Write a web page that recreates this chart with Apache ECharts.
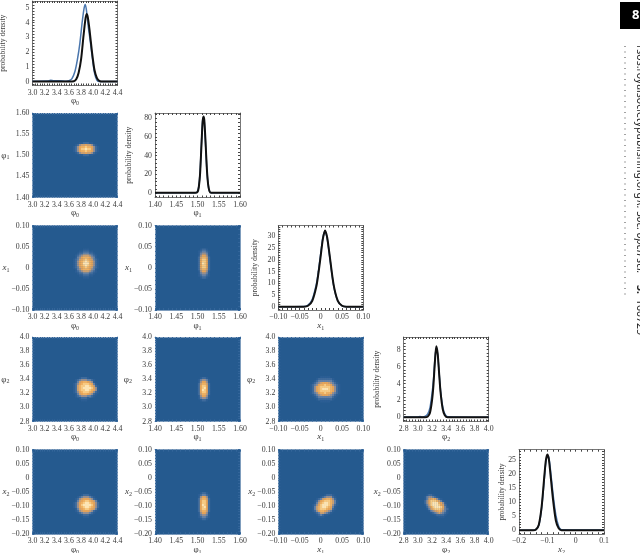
<!DOCTYPE html>
<html><head><meta charset="utf-8">
<style>html,body{margin:0;padding:0;background:#fff}#c{width:640px;height:553px;filter:blur(0.4px)}</style>
<script src="https://cdn.jsdelivr.net/npm/echarts@6/dist/echarts.min.js"></script>
</head><body><div id="c"></div>
<script>
// ---- tick labels ----
const phi0Ticks = ["3.0","3.2","3.4","3.6","3.8","4.0","4.2","4.4"];
const phi1Ticks = ["1.40","1.45","1.50","1.55","1.60"];
const x1Ticks   = ["−0.10","−0.05","0","0.05","0.10"];
const phi2Ticks = ["2.8","3.0","3.2","3.4","3.6","3.8","4.0"];
const x2TicksH  = ["−0.20","−0.15","−0.10","−0.05","0","0.05","0.10"];
const x2TicksD  = ["−0.2","−0.1","0","0.1"];
const densPhi0Ticks = ["0","1","2","3","4","5"];
const densPhi1Ticks = ["0","20","40","60","80"];
const densX1Ticks   = ["0","5","10","15","20","25","30"];
const densPhi2Ticks = ["0","2","4","6","8"];
const densX2Ticks   = ["0","5","10","15","20","25"];

// ---- marginal densities ----
const phi0X      = [3.0,3.6,3.68,3.72,3.76,3.8,3.84,3.87,3.89,3.91,3.94,3.98,4.02,4.06,4.1,4.16,4.4];
const phi0Black  = [0,0,0.02,0.15,0.6,1.5,3.1,4.2,4.6,4.4,3.5,2.0,0.8,0.25,0.05,0,0];
const phi0XB     = [3.0,3.25,3.3,3.35,3.45,3.55,3.6,3.65,3.7,3.74,3.78,3.82,3.85,3.87,3.89,3.92,3.95,3.98,4.02,4.06,4.1,4.4];
const phi0Blue   = [0.02,0.03,0.09,0.05,0.06,0.02,0.05,0.2,0.7,1.5,2.6,4.1,5.0,5.25,4.8,3.7,2.8,1.8,0.6,0.1,0,0];
const phi1X      = [1.4,1.495,1.5,1.503,1.506,1.509,1.512,1.514,1.516,1.519,1.522,1.525,1.528,1.532,1.6];
const phi1Black  = [0,0,1,6,20,48,76,82,78,54,26,9,2,0,0];
const phi1Blue   = [0,0,1.5,7,22,50,77,81,76,52,25,9,2,0,0];
const x1X        = [-0.1,-0.04,-0.03,-0.02,-0.01,-0.005,0,0.005,0.01,0.015,0.02,0.03,0.04,0.05,0.06,0.1];
const x1Black    = [0,0,0.4,2.5,9,15,22,29,32.5,29.5,23,9.5,2.5,0.4,0,0];
const x1Blue     = [0,0.1,0.7,3.2,10,16,23,29.5,32,29,22.5,9.2,2.4,0.4,0,0];
const phi2X      = [2.8,3.1,3.14,3.17,3.2,3.22,3.24,3.26,3.28,3.3,3.32,3.35,3.38,3.42,4.0];
const phi2Black  = [0,0,0.1,0.5,2,3.8,6.5,8.4,7.5,5.2,3,1,0.25,0,0];
const phi2XB     = [2.8,3.0,3.03,3.06,3.1,3.14,3.17,3.2,3.22,3.24,3.26,3.28,3.3,3.32,3.35,3.38,3.42,4.0];
const phi2Blue   = [0.02,0.03,0.08,0.04,0.1,0.4,1.1,2.8,4.4,6.8,8.3,7.4,5.3,3.2,1.3,0.4,0.05,0];
const x2X        = [-0.2,-0.15,-0.14,-0.13,-0.12,-0.11,-0.105,-0.1,-0.095,-0.09,-0.08,-0.07,-0.06,-0.05,0.1];
const x2Black    = [0,0,0.3,2,8.5,20,25,27,25.5,21,11,3.5,0.7,0,0];
const x2Blue     = [0,0,0.3,1.8,8,19,24.5,26.5,26,22.5,13,5.5,1.4,0.2,0.1];

// ---- joint densities: levels 0-9 around each mode ----
const joint_phi1_phi0 = ["0001122211000","0124556554210","1246778776421","1246889886421","1246778776421","0124556554210","0001122211000"];
const joint_x1_phi0 = ["0000011100000","0001122211000","0012233322100","0123455543210","0134677764310","1235678765321","1246789876421","1246799976421","1246789876421","1235678765321","0134677764310","0123455543210","0012233322100","0001122211000","0000011100000"];
const joint_x1_phi1 = ["012210","123321","134431","146641","257752","268862","268862","269862","268862","268862","257752","146641","134431","123321","012210"];
const joint_phi2_phi0 = ["0001222100000","0123444332100","0135677654100","1246788876310","1257889987521","1257899998641","1257889987641","1246788876421","0135677654210","0123444332100","0001222100000","0000111000000"];
const joint_phi2_phi1 = ["012210","134431","146641","257752","268862","268962","269862","268862","257752","146641","134431","012210"];
const joint_phi2_x1 = ["000001111100000","000122222221000","001233333332100","012345666543210","123467787764321","124678888876421","124678999876421","124678888876421","123467787764321","012345666543210","001233333332100","000122222221000","000001111100000"];
const joint_x2_phi0 = ["0000122210000","0012344432100","0124566654210","0135678876530","1246789987642","1246899998642","1246789987642","0135678876531","0124566654210","0012344432100","0000122210000","0000011100000"];
const joint_x2_phi1 = ["012210","123321","146641","257752","268862","268862","269862","268962","268862","257752","146641","134431","123321","012210"];
const joint_x2_x1 = ["0000001222100","0000123444210","0012356776420","0124678887531","0135789987531","1246899987421","1357899876310","1357888765210","1246776543100","0123554321000","0012321100000","0001110000000"];
const joint_x2_phi2 = ["012210000000","134432100000","135676421000","246888753100","246899976410","135899986520","024689998631","013578887532","001345676431","000123454321","000001222210","000000011100"];

// ---- modes of the posterior ----
const modePhi0 = 3.88, modePhi1 = 1.515, modeX1 = 0.01, modePhi2 = 3.26, modeX2 = -0.10;

// ---- style and layout ----
const palette = ["#255a8f","#2c5e94","#3f6b9c","#6481a6","#998f8e","#c99f72","#e5a459","#eeb163","#f7cb84","#fce4b4"];
const BG = palette[0], INK = "#3a3a3a", BLUE = "#4a76ad", BLACK = "#111";
const colL = [32.5,155,278.3,403.7,519], rowT = [1,113,225.5,337,449.7], W = 85, H = 84.5;
const FS = 7.8;
const num = s => Number(s.replace("−","-"));

const P = {
  phi0:{ticks:phi0Ticks,min:3.0,max:4.4,sym:"φ",sub:"0"},
  phi1:{ticks:phi1Ticks,min:1.40,max:1.60,sym:"φ",sub:"1"},
  x1:{ticks:x1Ticks,min:-0.10,max:0.10,sym:"x",sub:"1",ital:true},
  phi2:{ticks:phi2Ticks,min:2.8,max:4.0,sym:"φ",sub:"2"},
  x2H:{ticks:x2TicksH,min:-0.20,max:0.10,sym:"x",sub:"2",ital:true},
  x2D:{ticks:x2TicksD,min:-0.2,max:0.1,sym:"x",sub:"2",ital:true}
};
const rich = {
  n:{fontFamily:"Liberation Serif",fontSize:9,color:INK},
  i:{fontFamily:"Liberation Serif",fontSize:9,fontStyle:"italic",color:INK},
  s:{fontFamily:"Liberation Serif",fontSize:6,color:INK,verticalAlign:"bottom",padding:[5,0,0,0]}
};
const nameOf = p => `{${p.ital?"i":"n"}|${p.sym}}{s|${p.sub}}`;

function minors(labels, sub){
  const v = labels.map(num), out = [];
  for (let i=0;i<v.length-1;i++) for (let k=0;k<sub;k++) out.push(v[i]+(v[i+1]-v[i])*k/sub);
  out.push(v[v.length-1]);
  return out;
}
function widen(labels, sub, min, max){
  const v = labels.map(num), step = v[1]-v[0], out = minors(labels, sub);
  for (let t=v[0]-step/sub; t>=min; t-=step/sub) out.push(t);
  for (let t=v[v.length-1]+step/sub; t<=max; t+=step/sub) out.push(t);
  return out;
}

const grids=[], xAxes=[], yAxes=[], series=[];
function panel(col,row,xp,yp,lineCol,tickCol,labelOpts){
  const g = grids.length;
  grids.push({left:colL[col],top:rowT[row],width:W,height:H,show:labelOpts.heat,backgroundColor:labelOpts.heat?BG:"transparent",borderWidth:0,outerBoundsMode:"none"});
  const tickVals = widen(xp.ticks,5,xp.min,xp.max), yTickVals = widen(yp.ticks,5,yp.min,yp.max);
  const base = {scale:true,splitLine:{show:false},axisLine:{show:true,onZero:false,lineStyle:{color:lineCol,width:1}}};
  const tick = (vals)=>({show:true,inside:true,length:2,customValues:vals,lineStyle:{color:tickCol,width:1}});
  const lab = (labels,margin)=>({show:true,margin:margin,customValues:labels.map(num),fontFamily:"Liberation Serif",fontSize:FS,color:INK,hideOverlap:false,showMinLabel:true,showMaxLabel:true,
     formatter:v=>{let b=labels[0],d=1e9;labels.forEach(l=>{const e=Math.abs(num(l)-v);if(e<d){d=e;b=l}});return b}});
  xAxes.push(Object.assign({},base,{type:"value",gridIndex:g,position:"bottom",min:xp.min,max:xp.max,axisTick:tick(tickVals),axisLabel:lab(xp.ticks,3),
     name:nameOf(xp),nameLocation:"middle",nameGap:10,nameMoveOverlap:false,nameTextStyle:{rich}}));
  xAxes.push(Object.assign({},base,{type:"value",gridIndex:g,position:"top",min:xp.min,max:xp.max,axisTick:tick(tickVals),axisLabel:{show:false}}));
  const yName = labelOpts.heat ? {name:nameOf(yp),nameLocation:"middle",nameRotate:0,nameGap:23,nameMoveOverlap:false,nameTextStyle:{rich}}
    : {name:"probability density",nameLocation:"middle",nameRotate:90,nameGap:labelOpts.gap,nameMoveOverlap:false,nameTextStyle:{fontFamily:"Liberation Serif",fontSize:7.6,color:INK}};
  yAxes.push(Object.assign({},base,{type:"value",gridIndex:g,position:"left",min:yp.min,max:yp.max,axisTick:tick(yTickVals),axisLabel:lab(yp.ticks,3)},yName));
  yAxes.push(Object.assign({},base,{type:"value",gridIndex:g,position:"right",min:yp.min,max:yp.max,axisTick:tick(yTickVals),axisLabel:{show:false}}));
  return {x:xAxes.length-2,y:yAxes.length-2};
}
function density(col,row,xp,ticks,ymin,ymax,gap,xb,blue,xk,black){
  const yp = {ticks,min:ymin,max:ymax};
  const a = panel(col,row,xp,yp,"#777","#444",{heat:false,gap});
  const ln=(xs,ys,c,w)=>({type:"line",xAxisIndex:a.x,yAxisIndex:a.y,data:xs.map((x,i)=>[x,ys[i]]),showSymbol:false,smooth:0.25,silent:true,lineStyle:{color:c,width:w}});
  series.push(ln(xb,blue,BLUE,1.5), ln(xk,black,BLACK,2));
}
function joint(col,row,xp,yp,mx,my,rows){
  const a = panel(col,row,xp,yp,"#7f9dbd","#33659a",{heat:true});
  const dx=(xp.max-xp.min)/(W/2), dy=(yp.max-yp.min)/(H/2);
  const data=[];
  rows.forEach((r,j)=>{for(let i=0;i<r.length;i++){const lv=+r[i];if(lv>0)data.push([mx+(i-(r.length-1)/2)*dx,my-(j-(rows.length-1)/2)*dy,lv])}});
  series.push({type:"custom",xAxisIndex:a.x,yAxisIndex:a.y,data,silent:true,clip:true,encode:{x:0,y:1},
    renderItem:(p,api)=>{const c=api.coord([api.value(0),api.value(1)]),s=api.size([dx,dy]);
      return {type:"rect",shape:{x:c[0]-s[0]/2,y:c[1]-s[1]/2,width:s[0]+.3,height:s[1]+.3},style:{fill:palette[api.value(2)]}}}});
}

density(0,0,P.phi0,densPhi0Ticks,-0.27,5.48,25.5,phi0XB,phi0Blue,phi0X,phi0Black);
joint(0,1,P.phi0,P.phi1,modePhi0,modePhi1,joint_phi1_phi0);
density(1,1,P.phi1,densPhi1Ticks,-5,85.7,22.5,phi1X,phi1Blue,phi1X,phi1Black);
joint(0,2,P.phi0,P.x1,modePhi0,modeX1,joint_x1_phi0);
joint(1,2,P.phi1,P.x1,modePhi1,modeX1,joint_x1_phi1);
density(2,2,P.x1,densX1Ticks,-1.4,34.6,19,x1X,x1Blue,x1X,x1Black);
joint(0,3,P.phi0,P.phi2,modePhi0,modePhi2,joint_phi2_phi0);
joint(1,3,P.phi1,P.phi2,modePhi1,modePhi2,joint_phi2_phi1);
joint(2,3,P.x1,P.phi2,modeX1,modePhi2,joint_phi2_x1);
density(3,3,P.phi2,densPhi2Ticks,-0.5,9.5,23,phi2XB,phi2Blue,phi2X,phi2Black);
joint(0,4,P.phi0,P.x2H,modePhi0,modeX2,joint_x2_phi0);
joint(1,4,P.phi1,P.x2H,modePhi1,modeX2,joint_x2_phi1);
joint(2,4,P.x1,P.x2H,modeX1,modeX2,joint_x2_x1);
joint(3,4,P.phi2,P.x2H,modePhi2,modeX2,joint_x2_phi2);
density(4,4,P.x2D,densX2Ticks,-1.4,28.7,13.5,x2X,x2Blue,x2X,x2Black);

const chart = echarts.init(document.getElementById("c"),null,{renderer:"canvas"});
const side = [];
side.push({type:"rect",shape:{x:620,y:2,width:20,height:27},style:{fill:"#000"}});
side.push({type:"text",x:632,y:9,style:{text:"8",fill:"#fff",font:"bold 13px 'Noto Sans'"}});
const sideText=(t,y,font)=>({type:"text",x:645,y,rotation:-Math.PI/2,style:{text:t,fill:"#222",font,textBaseline:"top"}});
side.push(sideText("rsos.royalsocietypublishing.org",45,"10.5px 'Noto Sans'"));
side.push(sideText("R. Soc. open sci.",200,"italic 10.5px 'Noto Sans'"));
side.push(sideText("3:",285,"bold 10.5px 'Noto Sans'"));
side.push(sideText("160725",299,"10.5px 'Noto Sans'"));
side.push({type:"line",shape:{x1:625,y1:46,x2:625,y2:298},style:{stroke:"#444",lineWidth:1,lineDash:[1,4.5]}});
chart.setOption({animation:false,grid:grids,xAxis:xAxes,yAxis:yAxes,series,graphic:{elements:side}});
</script></body></html>
